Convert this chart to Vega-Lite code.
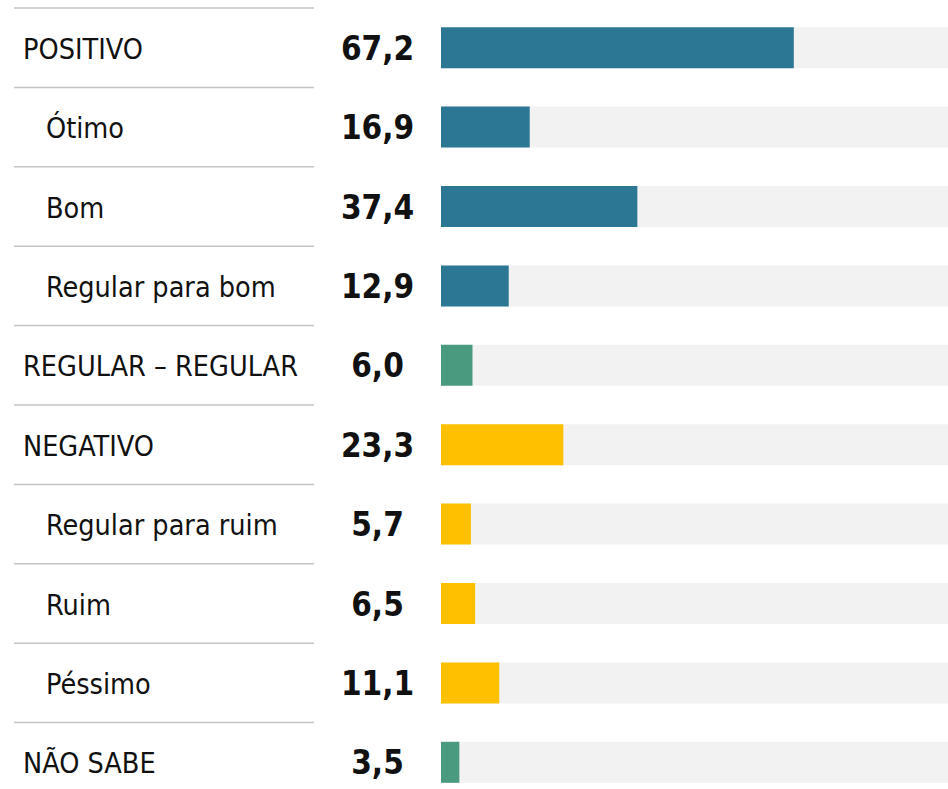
{
  "$schema": "https://vega.github.io/schema/vega-lite/v6.json",
  "padding": {"left": 13, "top": 0, "right": 0, "bottom": 0},
  "spacing": 0,
  "bounds": "flush",
  "background": "#ffffff",
  "config": {
    "view": {"stroke": null},
    "concat": {"spacing": 0},
    "locale": {"number": {"decimal": ",", "thousands": ".", "grouping": [3], "currency": ["R$", ""]}}
  },
  "data": {
    "values": [
      {"categoria": "POSITIVO", "valor": 67.2, "nivel": 0, "grupo": "positivo"},
      {"categoria": "Ótimo", "valor": 16.9, "nivel": 1, "grupo": "positivo"},
      {"categoria": "Bom", "valor": 37.4, "nivel": 1, "grupo": "positivo"},
      {"categoria": "Regular para bom", "valor": 12.9, "nivel": 1, "grupo": "positivo"},
      {"categoria": "REGULAR – REGULAR", "valor": 6.0, "nivel": 0, "grupo": "regular"},
      {"categoria": "NEGATIVO", "valor": 23.3, "nivel": 0, "grupo": "negativo"},
      {"categoria": "Regular para ruim", "valor": 5.7, "nivel": 1, "grupo": "negativo"},
      {"categoria": "Ruim", "valor": 6.5, "nivel": 1, "grupo": "negativo"},
      {"categoria": "Péssimo", "valor": 11.1, "nivel": 1, "grupo": "negativo"},
      {"categoria": "NÃO SABE", "valor": 3.5, "nivel": 0, "grupo": "nao_sabe"}
    ]
  },
  "hconcat": [
    {
      "width": 300,
      "height": 789,
      "layer": [
        {
          "mark": {"type": "rule", "stroke": "#C4C4C4", "strokeWidth": 1.5},
          "encoding": {
            "y": {"field": "categoria", "type": "nominal", "sort": null, "bandPosition": 0,
                  "scale": {"range": [8, 802], "paddingInner": 0, "paddingOuter": 0}, "axis": null}
          }
        },
        {
          "mark": {"type": "text", "align": "left", "baseline": "middle", "dy": 2,
                   "font": "DejaVu Sans Condensed, sans-serif", "fontSize": 28.5, "color": "#111111"},
          "encoding": {
            "y": {"field": "categoria", "type": "nominal", "sort": null,
                  "scale": {"range": [8, 802], "paddingInner": 0, "paddingOuter": 0}, "axis": null},
            "x": {"field": "nivel", "type": "quantitative", "scale": {"domain": [0, 1], "range": [9, 32]}, "axis": null},
            "text": {"field": "categoria", "type": "nominal"}
          }
        }
      ]
    },
    {
      "width": 127,
      "height": 789,
      "mark": {"type": "text", "align": "center", "baseline": "middle", "dy": 2,
               "font": "DejaVu Sans Condensed, sans-serif", "fontSize": 33, "fontWeight": "bold", "color": "#111111"},
      "encoding": {
        "y": {"field": "categoria", "type": "nominal", "sort": null,
              "scale": {"range": [8, 802], "paddingInner": 0, "paddingOuter": 0}, "axis": null},
        "text": {"field": "valor", "type": "quantitative", "format": ".1f"}
      }
    },
    {
      "width": 508,
      "height": 789,
      "encoding": {
        "y": {"field": "categoria", "type": "nominal", "sort": null,
              "scale": {"range": [8, 802], "paddingInner": 0, "paddingOuter": 0}, "axis": null}
      },
      "layer": [
        {
          "mark": {"type": "bar", "height": 41, "color": "#F2F2F2", "clip": true},
          "encoding": {
            "x": {"datum": 100, "type": "quantitative", "scale": {"domain": [0, 96.76], "nice": false, "zero": true}, "axis": null}
          }
        },
        {
          "mark": {"type": "bar", "height": 41},
          "encoding": {
            "x": {"field": "valor", "type": "quantitative", "scale": {"domain": [0, 96.76], "nice": false, "zero": true}, "axis": null},
            "color": {"field": "grupo", "type": "nominal",
                      "scale": {"domain": ["positivo", "regular", "negativo", "nao_sabe"],
                                "range": ["#2C7794", "#4A9A80", "#FFC000", "#4A9A80"]},
                      "legend": null}
          }
        }
      ]
    }
  ]
}
